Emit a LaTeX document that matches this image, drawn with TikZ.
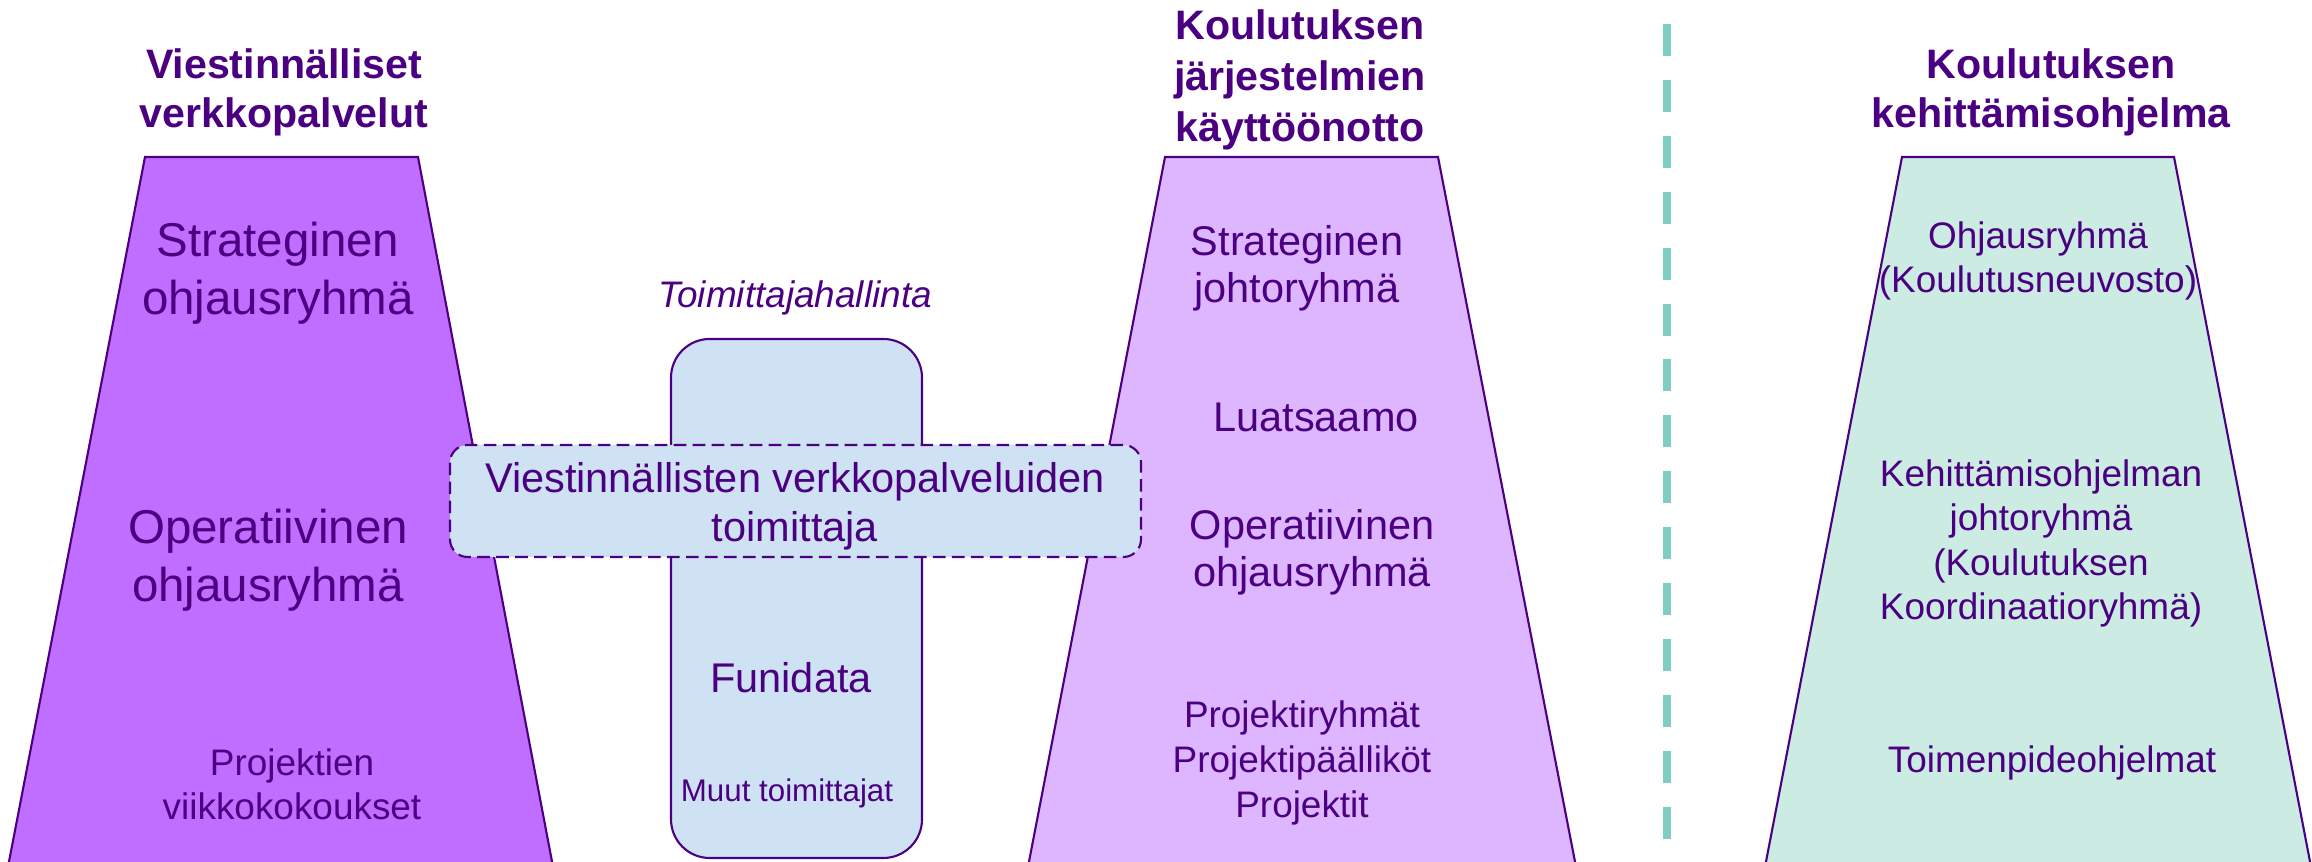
\documentclass[tikz,border=0pt]{standalone}
\usepackage{fontspec}
\setmainfont{Liberation Sans}
\definecolor{ink}{RGB}{75,0,130}
\definecolor{violetA}{RGB}{191,110,255}
\definecolor{violetB}{RGB}{221,182,255}
\definecolor{mintC}{RGB}{203,235,227}
\definecolor{supplier}{RGB}{207,226,243}
\definecolor{teal}{RGB}{126,205,190}
\tikzset{
	head/.style={font=\bfseries\fontsize{11.7}{14}\selectfont, text=ink, align=center, anchor=base, inner sep=0pt},
	bigtxt/.style={font=\fontsize{13.5}{16.6}\selectfont, text=ink, align=center, anchor=base, inner sep=0pt},
	midtxt/.style={font=\fontsize{11.8}{13.6}\selectfont, text=ink, align=center, anchor=base, inner sep=0pt},
	smalltxt/.style={font=\fontsize{10.5}{12.7}\selectfont, text=ink, align=center, anchor=base, inner sep=0pt},
	tiertrap/.style={draw=ink, line width=0.6pt}
}

\begin{document}
\begin{tikzpicture}[x=0.01cm, y=-0.01cm]
			\clip (0,0) rectangle (2312,862);
			% the three organisation pyramids
			\filldraw[tiertrap, fill=violetA] (145,157) -- (418,157) -- (554,872) -- (7,872) -- cycle;
			\filldraw[tiertrap, fill=violetB] (1165,157) -- (1438,157) -- (1577,872) -- (1027,872) -- cycle;
			\filldraw[tiertrap, fill=mintC] (1902,157) -- (2174,157) -- (2312,872) -- (1764,872) -- cycle;
			\draw[teal, line width=2.3pt, dash pattern=on 9.1pt off 6.8pt] (1667,24) -- (1667,870);

			% anchor=base sits on the last line
			\node[head] (webtitle) at (284,128) {Viestinnälliset\\verkkopalvelut};
			\node[head, font=\bfseries\fontsize{11.7}{14.6}\selectfont] (systitle) at (1300,142) {Koulutuksen\\järjestelmien\\käyttöönotto};
			\node[head] (devtitle) at (2051,128) {Koulutuksen\\kehittämisohjelma};

			\node[bigtxt] (webstrat) at (278,315) {Strateginen\\ohjausryhmä};
			\node[bigtxt] (webop) at (268,602) {Operatiivinen\\ohjausryhmä};
			\node[smalltxt] (webproj) at (292,820) {Projektien\\viikkokokoukset};

			\node[midtxt] (sysstrat) at (1297,303) {Strateginen\\johtoryhmä};
			\node[midtxt] (pilot) at (1316,432) {Luatsaamo};
			\node[midtxt] (sysop) at (1312,587) {Operatiivinen\\ohjausryhmä};
			\node[smalltxt, font=\fontsize{10.5}{12.8}\selectfont] (sysproj) at (1302,818) {Projektiryhmät\\Projektipäälliköt\\Projektit};

			\node[smalltxt] (devsteer) at (2038,293) {Ohjausryhmä\\(Koulutusneuvosto)};
			\node[smalltxt] (devlead) at (2041,620) {Kehittämisohjelman\\johtoryhmä\\(Koulutuksen\\Koordinaatioryhmä)};
			\node[smalltxt] (devplan) at (2052,773) {Toimenpideohjelmat};

			% supplier management
			\filldraw[draw=ink, line width=0.6pt, fill=supplier, rounded corners=11pt] (671,339) rectangle (922,858);
			\filldraw[draw=ink, line width=0.6pt, fill=supplier, dash pattern=on 3.6pt off 1.8pt, rounded corners=5pt] (450,445) rectangle (1141,557);
			\node[smalltxt, font=\itshape\fontsize{10.5}{12.7}\selectfont] (suppmgmt) at (795,308) {Toimittajahallinta};
			\node[midtxt, font=\fontsize{11.8}{14.2}\selectfont] (websupp) at (795,542) {Viestinnällisten verkkopalveluiden\\toimittaja};
			\node[midtxt] (funidata) at (791,693) {Funidata};
			\node[smalltxt, font=\fontsize{8.9}{10.7}\selectfont] (others) at (787,802) {Muut toimittajat};
		\end{tikzpicture}
\end{document}
